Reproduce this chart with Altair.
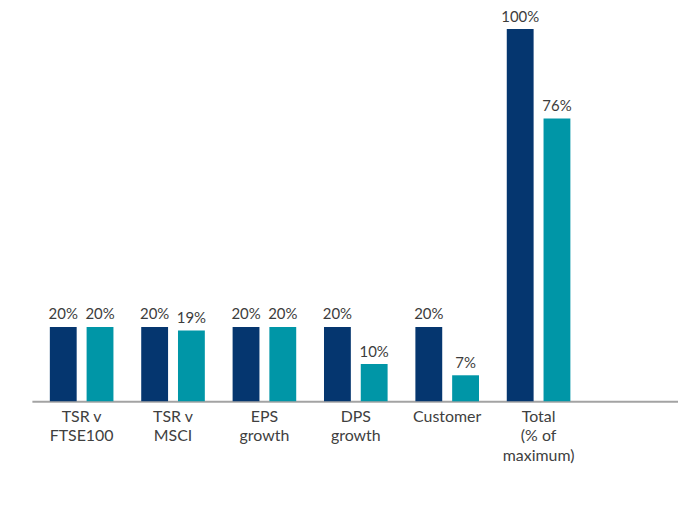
import altair as alt
import pandas as pd

categories = ["TSR v|FTSE100", "TSR v|MSCI", "EPS|growth", "DPS|growth", "Customer", "Total|(% of|maximum)"]
maximum_vals = [20, 20, 20, 20, 20, 100]
actual_vals = [20, 19, 20, 10, 7, 76]
series_names = ["Maximum", "Actual"]
series_colors = ["#05366f", "#0096a7"]

rows = []
for c, m, a in zip(categories, maximum_vals, actual_vals):
    rows.append({"cat": c, "series": series_names[0], "value": m, "label": f"{m}%"})
    rows.append({"cat": c, "series": series_names[1], "value": a, "label": f"{a}%"})
df = pd.DataFrame(rows)

x_dom = categories + [" "]
x_enc = alt.X(
    "cat:N",
    scale=alt.Scale(domain=x_dom, paddingInner=0.304, paddingOuter=0.187, align=0.525),
    sort=x_dom,
    axis=alt.Axis(
        title=None, labelAngle=0, ticks=False, grid=False,
        domainColor="#a3a3a3", domainWidth=2,
        labelFont="Lato", labelFontSize=16, labelColor="#404040",
        labelLineHeight=19.5, labelExpr="split(datum.label, '|')",
        labelBaseline="top", labelPadding=7,
    ),
)
xo = alt.XOffset("series:N", scale=alt.Scale(domain=series_names, paddingInner=0.27, paddingOuter=0))
y_enc = alt.Y("value:Q", scale=alt.Scale(domain=[0, 105.35], nice=False), axis=None)

base = alt.Chart(df)
bars = base.mark_bar().encode(
    x=x_enc, xOffset=xo, y=y_enc,
    color=alt.Color("series:N", scale=alt.Scale(domain=series_names, range=series_colors), legend=None),
)
texts = base.mark_text(baseline="alphabetic", dy=-7.5, font="Lato", fontSize=15, color="#3c3c3c").encode(
    x=x_enc, xOffset=xo, y=y_enc, text="label:N",
)

chart = (bars + texts).properties(
    width=649, height=394,
    autosize=alt.AutoSizeParams(type="none"),
    padding={"left": 24, "top": 0, "right": 0, "bottom": 100},
    background="white",
).configure_view(stroke=None)

chart.save("out.html", embed_options={"renderer": "svg", "actions": False})
